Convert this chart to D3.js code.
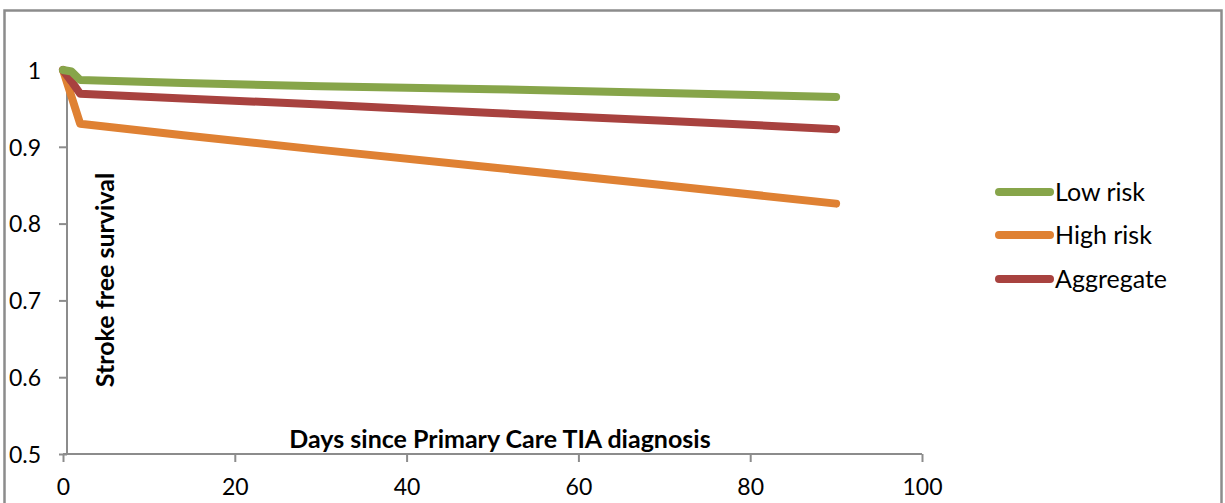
<!DOCTYPE html>
<html>
<head>
<meta charset="utf-8">
<script src="https://cdn.jsdelivr.net/npm/d3@7"></script>
<style>
  html, body { margin: 0; padding: 0; background: #fff; }
  svg { display: block; }
  text { font-family: Lato, "Open Sans", sans-serif; fill: #000; }
</style>
</head>
<body>
<svg id="chart" width="1225" height="503"></svg>
<script>
// Days since diagnosis at which survival was read
const days = [0, 1, 2, 14, 30, 50, 70, 90];
// Stroke free survival per group
const lowRisk   = [1, 0.998, 0.987, 0.983, 0.979, 0.975, 0.970, 0.965];
const highRisk  = [1, 0.965, 0.930, 0.915, 0.896, 0.873, 0.850, 0.826];
const aggregate = [1, 0.985, 0.969, 0.963, 0.955, 0.944, 0.934, 0.923];
const seriesNames = ["Low risk", "High risk", "Aggregate"];
const seriesColors = ["#87a54a", "#df8133", "#a8423f"];
const xTicks = [0, 20, 40, 60, 80, 100];
const yTicks = [0.5, 0.6, 0.7, 0.8, 0.9, 1];

const svg = d3.select("#chart");

// outer frame
svg.append("rect")
  .attr("x", 4.5).attr("y", 10.5)
  .attr("width", 1217).attr("height", 510)
  .attr("fill", "none").attr("stroke", "#8c8c8c").attr("stroke-width", 2.5);

const x = d3.scaleLinear().domain([0, 100]).range([63, 922]);
const y = d3.scaleLinear().domain([0.5, 1]).range([454, 70]);

// y axis: line sits a few pixels right of x = 0
const yAxisX = 67;
const yAxis = svg.append("g").attr("transform", `translate(${yAxisX},0)`)
  .call(d3.axisLeft(y).tickValues(yTicks).tickFormat(d => d === 1 ? "1" : d3.format(".1f")(d))
    .tickSize(8).tickPadding(18));
yAxis.select(".domain").attr("stroke", "#8c8c8c").attr("stroke-width", 2)
  .attr("d", `M0,${y(1)}V${y(0.5)}`);
yAxis.selectAll(".tick line").attr("stroke", "#8c8c8c").attr("stroke-width", 2);
yAxis.selectAll(".tick text").style("font-size", "23px").attr("dy", "0.36em");

// x axis
const xAxis = svg.append("g").attr("transform", `translate(0,${y(0.5)})`)
  .call(d3.axisBottom(x).tickValues(xTicks).tickSize(8).tickPadding(17));
xAxis.select(".domain").attr("stroke", "#8c8c8c").attr("stroke-width", 2)
  .attr("d", `M${x(0)},0H${x(100)}`);
xAxis.selectAll(".tick line").attr("stroke", "#8c8c8c").attr("stroke-width", 2);
xAxis.selectAll(".tick text").style("font-size", "23px");

// axis titles
svg.append("text")
  .attr("x", 500).attr("y", 448)
  .attr("text-anchor", "middle")
  .style("font-size", "25px").style("font-weight", "bold")
  .text("Days since Primary Care TIA diagnosis");

svg.append("text")
  .attr("transform", "translate(114,280) rotate(-90)")
  .attr("text-anchor", "middle")
  .style("font-size", "25px").style("font-weight", "bold")
  .text("Stroke free survival");

// survival curves
const seriesValues = [lowRisk, highRisk, aggregate];
const line = d3.line().x((d, i) => x(days[i])).y(d => y(d));
// draw order: orange underneath, then red, then green
[1, 2, 0].forEach(k => {
  svg.append("path")
    .datum(seriesValues[k])
    .attr("d", line)
    .attr("fill", "none")
    .attr("stroke", seriesColors[k])
    .attr("stroke-width", 8)
    .attr("stroke-linecap", "round")
    .attr("stroke-linejoin", "round");
});

// legend
const legendY = [192, 235, 279];
seriesNames.forEach((name, k) => {
  const g = svg.append("g").attr("transform", `translate(0,${legendY[k]})`);
  g.append("line")
    .attr("x1", 999).attr("x2", 1050).attr("y1", 0).attr("y2", 0)
    .attr("stroke", seriesColors[k]).attr("stroke-width", 8)
    .attr("stroke-linecap", "round");
  g.append("text")
    .attr("x", 1055).attr("y", 0).attr("dy", "0.35em")
    .style("font-size", "25px")
    .text(name);
});
</script>
</body>
</html>
